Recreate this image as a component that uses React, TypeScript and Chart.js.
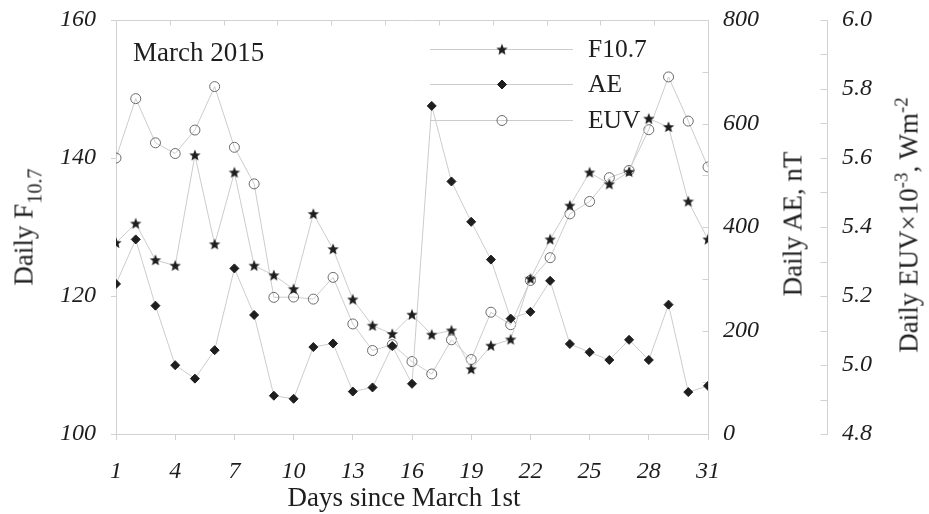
import React, { useEffect, useRef } from 'react';
import { Chart, registerables } from 'chart.js';
import { drawPoint } from 'chart.js/helpers';

Chart.register(...registerables);

// ---- data ----
const days = [1, 2, 3, 4, 5, 6, 7, 8, 9, 10, 11, 12, 13, 14, 15, 16, 17, 18, 19, 20, 21, 22, 23, 24, 25, 26, 27, 28, 29, 30, 31];
const f107 = [127.7, 130.5, 125.2, 124.4, 140.4, 127.5, 137.9, 124.4, 123.0, 121.0, 131.9, 126.8, 119.5, 115.7, 114.5, 117.3, 114.4, 115.0, 109.4, 112.8, 113.7, 122.5, 128.2, 133.1, 137.9, 136.2, 138.0, 145.7, 144.5, 133.7, 128.2];
const ae = [290, 376, 248, 133, 107, 162, 320, 230, 74, 68, 168, 175, 82, 90, 170, 97, 634, 488, 410, 337, 223, 236, 296, 174, 158, 143, 182, 143, 250, 81, 93];
const euv = [5.600, 5.772, 5.644, 5.613, 5.681, 5.807, 5.631, 5.525, 5.196, 5.197, 5.191, 5.254, 5.119, 5.042, 5.059, 5.010, 4.974, 5.073, 5.016, 5.153, 5.117, 5.245, 5.311, 5.438, 5.474, 5.543, 5.564, 5.682, 5.835, 5.707, 5.574];
const legendLabels = ['F10.7', 'AE', 'EUV'];
const xTicksStep = 3;

const SERIF = "'Liberation Serif', 'Times New Roman', serif";
const AXIS = '#d2d2d2';
const LINE = '#cccccc';
const INK = '#1e1e1e';

function makeStar(): HTMLCanvasElement {
  const c = document.createElement('canvas');
  c.width = 14;
  c.height = 14;
  const g = c.getContext('2d')!;
  const cx = 7, cy = 7.3, R = 6, r = 2.6;
  g.beginPath();
  for (let i = 0; i < 10; i++) {
    const rad = i % 2 === 0 ? R : r;
    const a = -Math.PI / 2 + (i * Math.PI) / 5;
    const x = cx + rad * Math.cos(a);
    const y = cy + rad * Math.sin(a);
    if (i === 0) g.moveTo(x, y); else g.lineTo(x, y);
  }
  g.closePath();
  g.fillStyle = INK;
  g.fill();
  return c;
}

const decorPlugin = {
  id: 'decor',
  beforeDatasetsDraw(chart: any) {
    const ctx = chart.ctx;
    ctx.save();
    ctx.strokeStyle = AXIS;
    ctx.lineWidth = 1;
    const inwardY = (id: string, len: number) => {
      const s = chart.scales[id];
      const x0 = Math.round(s.left) + 0.5;
      s.ticks.forEach((t: any) => {
        const y = Math.round(s.getPixelForValue(t.value)) + 0.5;
        ctx.beginPath();
        ctx.moveTo(x0 - len, y);
        ctx.lineTo(x0, y);
        ctx.stroke();
      });
    };
    inwardY('yAE', 6);
    inwardY('yEUV', 7);
    const top = chart.scales.x2;
    const yb = Math.round(top.bottom) + 0.5;
    top.ticks.forEach((t: any) => {
      const x = Math.round(top.getPixelForValue(t.value)) + 0.5;
      ctx.beginPath();
      ctx.moveTo(x, yb);
      ctx.lineTo(x, yb + 5);
      ctx.stroke();
    });
    ctx.restore();
  },
  afterDatasetsDraw(chart: any) {
    const ctx = chart.ctx;
    ctx.save();
    const rows = [49, 84, 120];
    const x1 = 430, x2 = 573, xm = 502, xt = 588;
    [0, 1, 2].forEach((di, i) => {
      const ds = chart.data.datasets[di];
      const y = rows[i] + 0.5;
      ctx.strokeStyle = LINE;
      ctx.lineWidth = 1;
      ctx.beginPath();
      ctx.moveTo(x1, y);
      ctx.lineTo(x2, y);
      ctx.stroke();
      ctx.fillStyle = ds.pointBackgroundColor;
      ctx.strokeStyle = ds.pointBorderColor;
      ctx.lineWidth = ds.pointBorderWidth;
      drawPoint(ctx, { pointStyle: ds.pointStyle, rotation: 0, borderWidth: ds.pointBorderWidth, radius: ds.pointRadius }, xm, y);
      ctx.fillStyle = INK;
      ctx.font = `25.5px ${SERIF}`;
      ctx.textBaseline = 'middle';
      ctx.textAlign = 'left';
      ctx.fillText(legendLabels[di], xt, rows[i] + 1);
    });
    ctx.restore();
  },
};

const noPadV = (w: number) => (s: any) => {
  s.width = w;
  s.paddingTop = 0;
  s.paddingBottom = 0;
};
const noPadH = (h: number) => (s: any) => {
  s.height = h;
  s.paddingLeft = 0;
  s.paddingRight = 0;
};

export default function App() {
  const ref = useRef<HTMLCanvasElement>(null);

  useEffect(() => {
    const star = makeStar();
    const tickFont = { family: SERIF, size: 24, style: 'italic' as const };
    const chart = new Chart(ref.current!, {
      type: 'line',
      data: {
        datasets: [
          {
            label: legendLabels[0],
            data: days.map((d, i) => ({ x: d, y: f107[i] })),
            yAxisID: 'y',
            xAxisID: 'x',
            borderColor: LINE,
            borderWidth: 1,
            pointStyle: star as any,
            pointRadius: 6,
            pointBackgroundColor: INK,
            pointBorderColor: INK,
            pointBorderWidth: 0,
            order: 0,
          },
          {
            label: legendLabels[1],
            data: days.map((d, i) => ({ x: d, y: ae[i] })),
            yAxisID: 'yAE',
            xAxisID: 'x',
            borderColor: LINE,
            borderWidth: 1,
            pointStyle: 'rectRot',
            pointRadius: 4.5,
            pointBackgroundColor: INK,
            pointBorderColor: INK,
            pointBorderWidth: 1,
            order: 1,
          },
          {
            label: legendLabels[2],
            data: days.map((d, i) => ({ x: d, y: euv[i] })),
            yAxisID: 'yEUV',
            xAxisID: 'x',
            borderColor: LINE,
            borderWidth: 1,
            pointStyle: 'circle',
            pointRadius: 5,
            pointBackgroundColor: 'rgba(255,255,255,0)',
            pointBorderColor: '#6a6a6a',
            pointBorderWidth: 1,
            order: 2,
          },
        ],
      },
      options: {
        responsive: false,
        animation: false,
        events: [],
        layout: { padding: 0 },
        plugins: { legend: { display: false }, tooltip: { enabled: false } },
        scales: {
          x: {
            type: 'linear',
            position: 'bottom',
            min: 1,
            max: 31,
            ticks: { stepSize: xTicksStep, font: tickFont, color: INK, padding: 17, maxRotation: 0 },
            grid: { drawOnChartArea: false, drawTicks: true, tickLength: 6, color: AXIS },
            border: { display: true, color: AXIS },
            afterFit: noPadH(80),
          },
          x2: {
            type: 'linear',
            position: 'top',
            min: 0,
            max: 11,
            ticks: { stepSize: 1, display: false },
            grid: { drawOnChartArea: false, drawTicks: false },
            border: { display: true, color: AXIS },
            afterFit: noPadH(20),
          },
          y: {
            type: 'linear',
            position: 'left',
            min: 100,
            max: 160,
            ticks: { stepSize: 20, font: tickFont, color: INK, padding: 15 },
            grid: { drawOnChartArea: false, drawTicks: true, tickLength: 5, color: AXIS },
            border: { display: true, color: AXIS },
            afterFit: noPadV(116),
          },
          yAE: {
            type: 'linear',
            position: 'right',
            weight: 0,
            min: 0,
            max: 800,
            ticks: {
              stepSize: 100,
              font: tickFont,
              color: INK,
              padding: 15,
              callback: (v: any) => (Math.round(v) % 200 === 0 ? String(Math.round(v)) : ''),
            },
            grid: { drawOnChartArea: false, drawTicks: false, color: AXIS },
            border: { display: true, color: AXIS },
            afterFit: noPadV(119),
          },
          yEUV: {
            type: 'linear',
            position: 'right',
            weight: 1,
            min: 4.8,
            max: 6.0,
            ticks: {
              stepSize: 0.1,
              font: tickFont,
              color: INK,
              padding: 15,
              callback: (v: any) => (Math.round(v * 10) % 2 === 0 ? Number(v).toFixed(1) : ''),
            },
            grid: { drawOnChartArea: false, drawTicks: false, color: AXIS },
            border: { display: true, color: AXIS },
            afterFit: noPadV(102),
          },
        },
      },
      plugins: [decorPlugin],
    });
    return () => chart.destroy();
  }, []);

  const title: React.CSSProperties = {
    position: 'absolute',
    fontFamily: SERIF,
    fontSize: 27,
    lineHeight: 1,
    color: INK,
    whiteSpace: 'nowrap',
  };
  const rot = (cx: number, cy: number): React.CSSProperties => ({
    ...title,
    left: cx,
    top: cy,
    transform: 'translate(-50%, -50%) rotate(-90deg)',
  });
  const sub: React.CSSProperties = { fontSize: '0.75em', verticalAlign: '-0.45em', lineHeight: 0 };
  const sup: React.CSSProperties = { fontSize: '0.7em', verticalAlign: '0.55em', lineHeight: 0 };

  return (
    <div style={{ position: 'absolute', left: 0, top: 0, width: 929, height: 514, background: '#fff' }}>
      <canvas ref={ref} width={929} height={514} style={{ position: 'absolute', left: 0, top: 0 }} />
      <div style={{ ...title, left: 133, top: 39 }}>March 2015</div>
      <div style={{ ...title, left: 404, top: 497, transform: 'translate(-50%, -50%)' }}>Days since March 1st</div>
      <div style={rot(24, 227)}>Daily F<span style={sub}>10.7</span></div>
      <div style={rot(793, 224)}>Daily AE, nT</div>
      <div style={rot(909, 225)}>Daily EUV×10<span style={sup}>-3</span>, Wm<span style={sup}>-2</span></div>
    </div>
  );
}
